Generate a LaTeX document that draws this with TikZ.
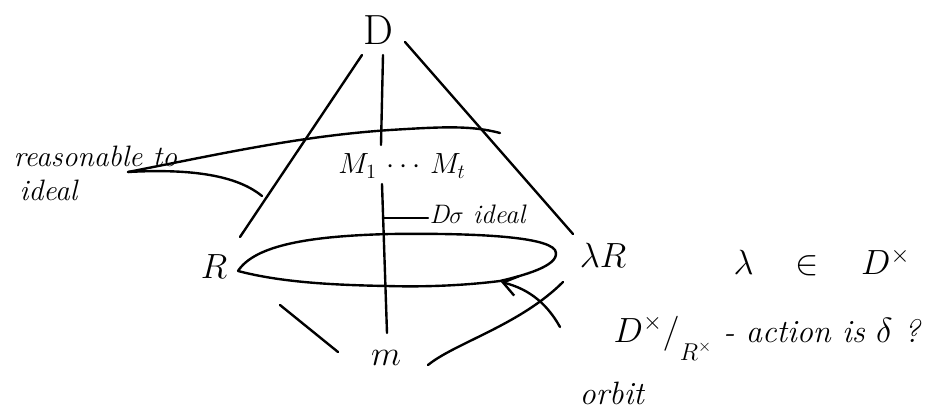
\documentclass[tikz,border=0pt]{standalone}
\usepackage{tikz}
\usetikzlibrary{arrows.meta,calc}
\tikzset{
  font=\rmfamily,
  ink/.style={draw=black, line width=1.7pt, line cap=round, line join=round},
  bigletter/.style={font=\fontsize{30}{30}\selectfont, inner sep=1pt},
  midletter/.style={font=\fontsize{23}{23}\selectfont, inner sep=1pt},
  smallmath/.style={font=\fontsize{20}{20}\selectfont, inner sep=1pt},
  script/.style={font=\itshape\fontsize{21}{22}\selectfont, inner sep=1pt, anchor=west},
  orbitarrow/.style={ink, -{Straight Barb[length=3.5mm,width=5mm,line width=1.7pt]}}
}
\begin{document}
\begin{tikzpicture}[x=0.025cm, y=-0.025cm]
  \useasboundingbox (0,0) rectangle (930,420);

  % labels
  \node[bigletter] (D) at (378,30) {D};
  \node[smallmath] (orders) at (402,166) {$M_1\,\cdots\,M_t$};
  \node[bigletter] (R) at (214,267) {$R$};
  \node[midletter] (lamR) at (603,255) {$\lambda R$};
  \node[bigletter] (m) at (386,358) {$m$};
  \node[script] (reason) at (12,156) {reasonable to};
  \node[script] (ideal) at (18,190) {ideal};
  \node[script, font=\itshape\fontsize{19}{20}\selectfont] (Dideal) at (428,214) {D$\sigma$ ideal};
  \node[midletter, anchor=west] (lam) at (732,262) {$\lambda\quad\in\quad D^{\times}$};
  \node[script, font=\itshape\fontsize{23}{24}\selectfont] (action) at (612,338) {$D^{\times}/\raisebox{-1.3ex}{$\scriptstyle R^{\times}$}$ - action is $\delta$ ?};
  \node[script, font=\itshape\fontsize{23}{24}\selectfont] (orbit) at (578,393) {orbit};

  % cone
  \coordinate (leftTop) at (362,55);
  \coordinate (leftBot) at (240,237);
  \coordinate (rightTop) at (405,42);
  \coordinate (rightBot) at (573,234);
  \coordinate (midTop) at (383,55);
  \coordinate (midUp) at (381,145);
  \coordinate (midLow) at (382,184);
  \coordinate (midBot) at (387,333);
  \draw[ink] (leftTop) -- (leftBot);
  \draw[ink] (rightTop) -- (rightBot);
  \draw[ink] (midTop) -- (midUp);
  \draw[ink] (midLow) -- (midBot);

  % pointer to the reasonable ideals
  \coordinate (tag) at (128,172);
  \coordinate (crossL) at (262,196);
  \coordinate (crossR) at (500,133);
  \draw[ink] (tag) .. controls (220,154) and (300,136) .. (390,130)
    .. controls (440,127) and (470,125) .. (crossR);
  \draw[ink] (tag) .. controls (200,168) and (240,178) .. (crossL);

  % D-ideal tick
  \coordinate (tick) at (383,218);
  \draw[ink] (tick) -- (tick -| Dideal.west);

  % orbit loop
  \coordinate (loopL) at (238,271);
  \draw[ink] (loopL) .. controls (255,245) and (310,236) .. (390,234)
    .. controls (470,233) and (545,236) .. (555,250)
    .. controls (562,264) and (530,274) .. (500,281)
    .. controls (460,286) and (420,287) .. (387,286)
    .. controls (330,285) and (280,282) .. (loopL);

  % action arrow
  \coordinate (actStart) at (560,327);
  \coordinate (actEnd) at (501,282);
  \draw[orbitarrow] (actStart) .. controls (545,300) and (525,288) .. (actEnd);

  % lower lines
  \coordinate (lowL1) at (280,305);
  \coordinate (lowL2) at (338,352);
  \coordinate (lowR1) at (428,365);
  \coordinate (lowR2) at (563,282);
  \draw[ink] (lowL1) -- (lowL2);
  \draw[ink] (lowR1) .. controls (455,343) and (520,325) .. (lowR2);
\end{tikzpicture}
\end{document}
